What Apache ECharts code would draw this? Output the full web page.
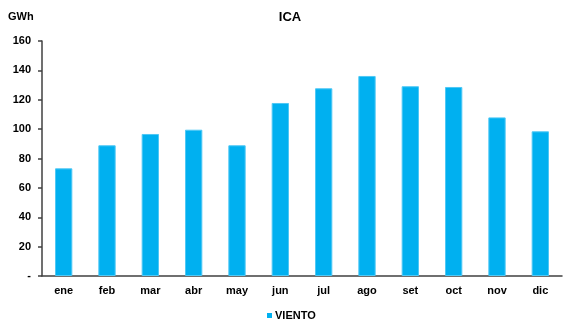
<!DOCTYPE html>
<html><head><meta charset="utf-8">
<script src="https://cdn.jsdelivr.net/npm/echarts@6/dist/echarts.min.js"></script>
<style>html,body{margin:0;padding:0;background:#fff}#c{width:576px;height:332px}</style>
</head><body><div id="c"></div>
<script>
var categories = ['ene','feb','mar','abr','may','jun','jul','ago','set','oct','nov','dic'];
var viento = [73.3, 89, 96.7, 99.6, 89, 117.8, 127.8, 136.2, 129.2, 128.7, 108, 98.5];
var chart = echarts.init(document.getElementById('c'));
var font = 'Liberation Sans, Arial, sans-serif';
chart.setOption({
  animation: false,
  title: [{text: 'ICA', left: 290, top: 11, padding: 0, textAlign: 'center',
    textStyle: {fontFamily: font, fontSize: 13, fontWeight: 'bold', color: '#000'}},
    {text: 'GWh', left: 8, top: 11, padding: 0, textStyle: {fontFamily: font, fontSize: 11, fontWeight: 'bold', color: '#000'}}],
  grid: {left: 42, right: 14, top: 41, bottom: 56},
  legend: {bottom: 6, left: 262, itemWidth: 5, itemHeight: 5, itemGap: 4,
    icon: 'rect', itemStyle: {borderWidth: 0},
    textStyle: {fontFamily: font, fontSize: 11, fontWeight: 'bold', color: '#000', padding: [0,0,0,-2]},
    data: ['VIENTO']},
  xAxis: {type: 'category', data: categories,
    axisLine: {lineStyle: {color: '#404040', width: 1.5}},
    axisTick: {show: false},
    axisLabel: {fontFamily: font, fontSize: 11, fontWeight: 'bold', color: '#000', margin: 9}},
  yAxis: {type: 'value', min: 0, max: 160, interval: 20,
    axisLine: {show: true, lineStyle: {color: '#404040', width: 1.5}},
    axisTick: {show: true, length: 4, lineStyle: {color: '#404040', width: 1.5}},
    splitLine: {show: false},
    axisLabel: {fontFamily: font, fontSize: 11, fontWeight: 'bold', color: '#000', margin: 11,
      formatter: function(v){ return v === 0 ? '-' : v; }}},
  series: [{name: 'VIENTO', type: 'bar', data: viento, barWidth: '40%',
    itemStyle: {color: '#00B0F0', borderColor: '#4FC8F5', borderWidth: 1}}]
});
</script></body></html>
